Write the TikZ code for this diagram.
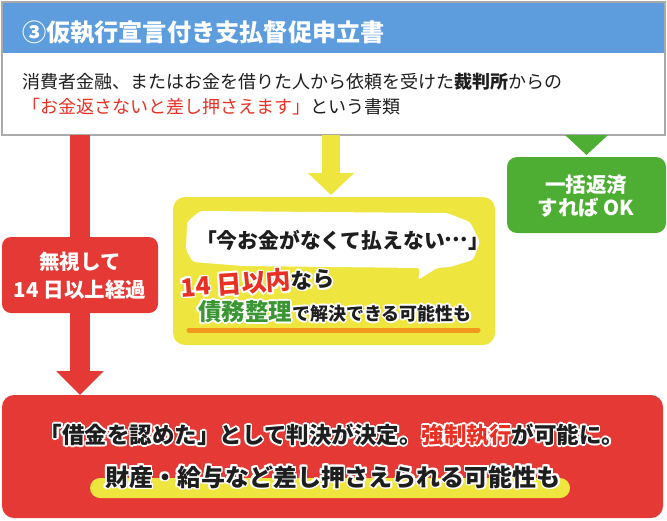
\documentclass[tikz,border=0pt]{standalone}
\usepackage{fontspec}
\setmainfont{Noto Sans CJK JP}
\usepackage{contour}
\contourlength{1.6pt}
\usetikzlibrary{arrows.meta}
\definecolor{hblue}{RGB}{93,157,222}
\definecolor{bgray}{RGB}{170,170,170}
\definecolor{myred}{RGB}{229,57,54}
\definecolor{txtred}{RGB}{232,48,36}
\definecolor{myyellow}{RGB}{238,230,62}
\definecolor{mygreen}{RGB}{78,174,52}
\definecolor{txtgreen}{RGB}{58,150,50}
\definecolor{myorange}{RGB}{243,152,30}
\definecolor{txtblack}{RGB}{30,30,30}
\tikzset{
  boxnode/.style={inner sep=0pt, outer sep=0pt},
  redarrow/.style={draw=myred, line width=20pt, -{Triangle[length=24pt,width=46pt]}},
  yelarrow/.style={draw=myyellow, line width=18pt, -{Triangle[length=22pt,width=45pt]}},
  txt/.style={inner sep=0pt, outer sep=0pt, text=txtblack},
}
\newcommand{\wc}[1]{\contour{white}{#1}}
\begin{document}
\begin{tikzpicture}[x=1pt,y=-1pt]
\useasboundingbox (0,0) rectangle (667,520);
% top box
\node[boxnode, fill=white, minimum width=663pt, minimum height=133pt] (top) at (333.5,68.5) {};
\node[boxnode, fill=hblue, minimum width=663pt, minimum height=51pt, anchor=north] (hdr) at (top.north) {};
\draw[bgray, line width=1.5pt] (top.north west) rectangle (top.south east);
\node[txt, anchor=base west, text=white, font=\fontsize{24.2}{24.2}\selectfont\bfseries] (title) at (22,41) {③仮執行宣言付き支払督促申立書};
\node[txt, anchor=base west, font=\fontsize{18}{18}\selectfont] (l1) at (23,88.8) {消費者金融、またはお金を借りた人から依頼を受けた{\bfseries 裁判所}からの};
\node[txt, anchor=base west, font=\fontsize{18}{18}\selectfont] (l2) at (23,113.8) {\textcolor{txtred}{「お金返さないと差し押さえます」}という書類};
% boxes
\node[boxnode, minimum width=661pt, minimum height=123pt] (bot) at (332.5,456.5) {};
\node[boxnode, minimum width=156pt, minimum height=76pt] (rb) at (80,275) {};
\node[boxnode, minimum width=322pt, minimum height=148pt] (yb) at (334,271) {};
\node[boxnode, minimum width=159pt, minimum height=76pt] (gb) at (586.5,195) {};
% arrows
\draw[redarrow] (top.south -| rb.center) -- (bot.north -| rb.center);
\draw[yelarrow] ([xshift=-3pt]yb.north |- top.south) -- ([xshift=-3pt,yshift=2pt]yb.north);
\fill[mygreen] ([xshift=-21.5pt]gb.north |- top.south) -- ([xshift=21.5pt]gb.north |- top.south) -- ([yshift=2pt]gb.north) -- cycle;
% filled boxes
\fill[myred, rounded corners=12pt] (bot.north west) rectangle (bot.south east);
\fill[myred, rounded corners=9pt] (rb.north west) rectangle (rb.south east);
\fill[myyellow, rounded corners=12pt] (yb.north west) rectangle (yb.south east);
\fill[mygreen, rounded corners=10pt] (gb.north west) rectangle (gb.south east);
% red box text
\node[txt, anchor=base, text=white, font=\fontsize{20.5}{20.5}\selectfont\bfseries] (rt1) at (80,269.8) {無視して};
\node[txt, anchor=base, text=white, font=\fontsize{20.5}{20.5}\selectfont\bfseries] (rt2) at (80,297.8) {14 日以上経過};
% green box text
\node[txt, anchor=base, text=white, font=\fontsize{20.5}{20.5}\selectfont\bfseries] (gt1) at (586,192.8) {一括返済};
\node[txt, anchor=base, text=white, font=\fontsize{20.5}{20.5}\selectfont\bfseries] (gt2) at (586,215.8) {すれば OK};
% speech bubble
\fill[white, rounded corners=3pt] (187,222) -- (200,211) -- (447,213) -- (470,222) -- (480,242) -- (473,260) -- (450,267) -- (437,268) -- (418,280) -- (420,268) -- (243,266) -- (193,262) -- (186,250) -- cycle;
\node[txt, anchor=base west, font=\fontsize{20.8}{20.8}\selectfont\bfseries] (bub) at (196,248) {「今お金がなくて払えない\raisebox{0.3em}{…}」};
% yellow box text
\draw[myorange, line width=5pt, line cap=round] (189,330) -- (478,330);
\node[txt, anchor=base west, rotate=4, font=\bfseries] (d14) at (181,297) {\fontsize{25}{25}\selectfont\textcolor{txtred}{\wc{14 日以内}}\fontsize{21.5}{21.5}\selectfont\wc{なら}};
\node[txt, anchor=base west, font=\bfseries] (saimu) at (198,320.5) {\fontsize{23.5}{23.5}\selectfont\textcolor{txtgreen}{\wc{債務整理}}\fontsize{18}{18}\selectfont\wc{で解決できる可能性も}};
% bottom box text
\fill[myyellow, rounded corners=10pt] (90,478) rectangle (570,498);
\node[txt, anchor=base, font=\fontsize{22.5}{22.5}\selectfont\bfseries] (b1) at (332,443.5) {\wc{「借金を認めた」として判決が決定。}\textcolor{txtred}{\wc{強制執行}}\wc{が可能に。}};
\node[txt, anchor=base, font=\fontsize{24}{24}\selectfont\bfseries] (b2) at (333,486) {\wc{財産・給与など差し押さえられる可能性も}};
\end{tikzpicture}
\end{document}
